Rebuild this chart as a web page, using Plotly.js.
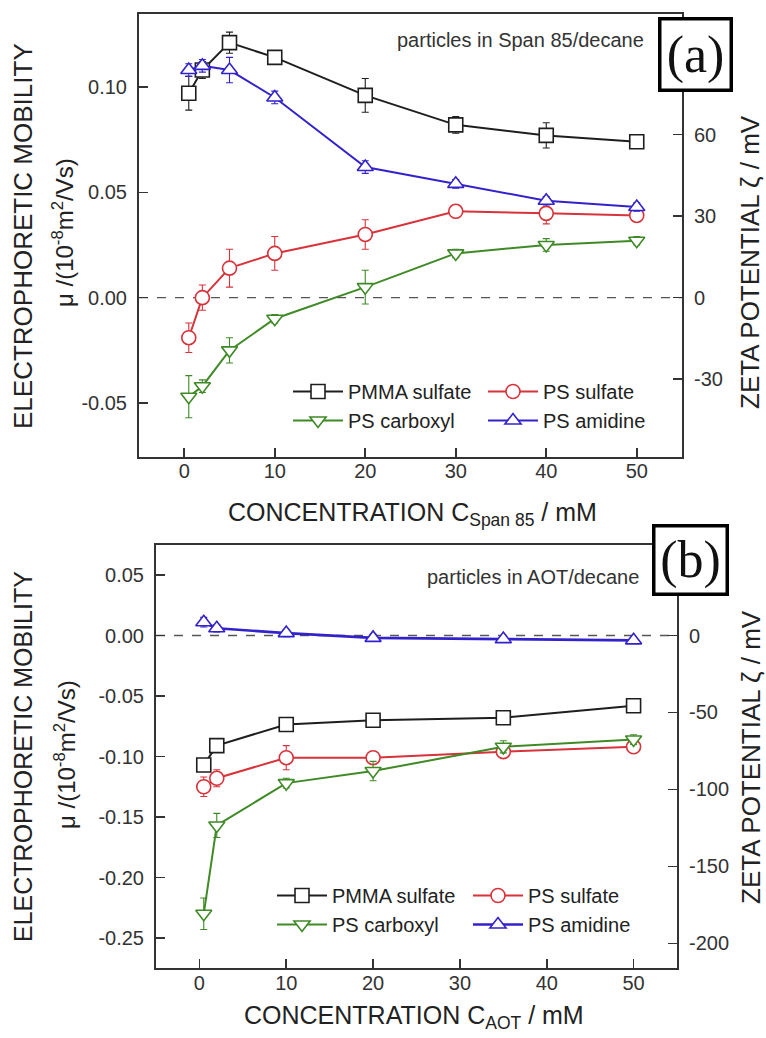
<!DOCTYPE html>
<html>
<head>
<meta charset="utf-8">
<script src="https://cdn.plot.ly/plotly-3.0.1.min.js"></script>
<style>html,body{margin:0;padding:0;background:#fff;}#chart{width:766px;height:1038px;}</style>
</head>
<body>
<div id="chart"></div>
<script>
// ---------- data ----------
const seriesNames = ['PMMA sulfate', 'PS sulfate', 'PS carboxyl', 'PS amidine'];

// Panel (a): Span 85 / decane
const concA = [0.5, 2, 5, 10, 20, 30, 40, 50];
const pmmaSulfateA = [0.097, 0.108, 0.121, 0.114, 0.096, 0.082, 0.077, 0.074];
const pmmaSulfateAErr = [0.008, 0.004, 0.005, 0.002, 0.008, 0.004, 0.006, 0.002];
const psSulfateA = [-0.019, 0.000, 0.014, 0.021, 0.030, 0.041, 0.040, 0.039];
const psSulfateAErr = [0.007, 0.006, 0.009, 0.008, 0.007, 0.003, 0.005, 0.002];
const psCarboxylA = [-0.047, -0.042, -0.025, -0.010, 0.005, 0.021, 0.025, 0.027];
const psCarboxylAErr = [0.010, 0.003, 0.006, 0.002, 0.008, 0.002, 0.003, 0.002];
const psAmidineA = [0.108, 0.110, 0.108, 0.095, 0.062, 0.054, 0.046, 0.043];
const psAmidineAErr = [0.003, 0.003, 0.006, 0.003, 0.003, 0.002, 0.002, 0.002];

// Panel (b): AOT / decane
const concB = [0.5, 2, 10, 20, 35, 50];
const pmmaSulfateB = [-0.107, -0.091, -0.0735, -0.070, -0.068, -0.058];
const pmmaSulfateBErr = [0.004, 0.003, 0.003, 0.002, 0.002, 0.003];
const psSulfateB = [-0.125, -0.118, -0.101, -0.101, -0.096, -0.092];
const psSulfateBErr = [0.008, 0.007, 0.010, 0.004, 0.003, 0.003];
const psCarboxylB = [-0.230, -0.157, -0.122, -0.112, -0.092, -0.086];
const psCarboxylBErr = [0.013, 0.010, 0.004, 0.008, 0.005, 0.004];
const psAmidineB = [0.011, 0.006, 0.002, -0.002, -0.003, -0.004];
const psAmidineBErr = [0.004, 0.003, 0.003, 0.003, 0.002, 0.002];

// ticks
const xTickVals = [0, 10, 20, 30, 40, 50];
const xTickText = ['0', '10', '20', '30', '40', '50'];
const yATickVals = [-0.05, 0, 0.05, 0.10];
const yATickText = ['-0.05', '0.00', '0.05', '0.10'];
const zATickVals = [-30, 0, 30, 60];
const zATickText = ['-30', '0', '30', '60'];
const yBTickVals = [-0.25, -0.20, -0.15, -0.10, -0.05, 0, 0.05];
const yBTickText = ['-0.25', '-0.20', '-0.15', '-0.10', '-0.05', '0.00', '0.05'];
const zBTickVals = [-200, -150, -100, -50, 0];
const zBTickText = ['-200', '-150', '-100', '-50', '0'];

// ---------- styles ----------
const W = 766, H = 1038;
const FONT = 'Liberation Sans, Arial, sans-serif';
const colors = ['#1e1e1e', '#d8323a', '#3f8a26', '#3322cc'];
const symbols = ['square', 'circle', 'triangle-down', 'triangle-up'];
const px = v => v / W;
const py = v => 1 - v / H;

function mk(i, x, y, err, xa, ya, legendId, lw) {
  return {
    type: 'scatter', mode: 'lines+markers', name: seriesNames[i],
    x: x, y: y, xaxis: xa, yaxis: ya, legend: legendId,
    line: {color: colors[i], width: lw || 2},
    marker: {symbol: symbols[i], size: 14, color: 'white', line: {color: colors[i], width: 1.6}},
    error_y: {type: 'data', array: err, visible: true, color: colors[i], thickness: 1.1, width: 3.5},
    cliponaxis: false
  };
}
// empty helper traces so that the zeta-potential (right) axes are drawn
function axisHolder(xa, ya) {
  return {type: 'scatter', mode: 'markers', x: [null], y: [null], xaxis: xa, yaxis: ya,
          showlegend: false, hoverinfo: 'skip'};
}

const data = [
  mk(0, concA, pmmaSulfateA, pmmaSulfateAErr, 'x', 'y', 'legend'),
  mk(1, concA, psSulfateA, psSulfateAErr, 'x', 'y', 'legend2'),
  mk(2, concA, psCarboxylA, psCarboxylAErr, 'x', 'y', 'legend'),
  mk(3, concA, psAmidineA, psAmidineAErr, 'x', 'y', 'legend2'),
  mk(0, concB, pmmaSulfateB, pmmaSulfateBErr, 'x2', 'y2', 'legend3'),
  mk(1, concB, psSulfateB, psSulfateBErr, 'x2', 'y2', 'legend4'),
  mk(2, concB, psCarboxylB, psCarboxylBErr, 'x2', 'y2', 'legend3'),
  mk(3, concB, psAmidineB, psAmidineBErr, 'x2', 'y2', 'legend4', 2.6),
  axisHolder('x', 'y3'),
  axisHolder('x2', 'y4')
];

const axisBase = {
  showline: true, linecolor: '#333', linewidth: 2,
  ticks: 'inside', ticklen: 9, tickwidth: 1.6, tickcolor: '#333',
  showgrid: false, zeroline: false,
  tickfont: {family: FONT, size: 20, color: '#333'},
  tickmode: 'array', fixedrange: true
};

function legendAt(xp, yp) {
  return {
    x: px(xp), y: py(yp), xanchor: 'left', yanchor: 'top', xref: 'paper', yref: 'paper',
    bgcolor: 'rgba(0,0,0,0)', borderwidth: 0, itemwidth: 50, tracegroupgap: 0,
    font: {family: FONT, size: 20, color: '#222'}, orientation: 'v'
  };
}

function title(text, x, y, size, angle) {
  return {text: text, xref: 'paper', yref: 'paper', x: px(x), y: py(y),
          xanchor: 'center', yanchor: 'middle', textangle: angle || 0, showarrow: false,
          font: {family: FONT, size: size, color: '#222'}};
}

const layout = {
  width: W, height: H,
  margin: {l: 0, r: 0, t: 0, b: 0},
  paper_bgcolor: 'white', plot_bgcolor: 'white',
  showlegend: true,
  font: {family: FONT, color: '#222'},
  xaxis: Object.assign({}, axisBase, {domain: [px(139), px(682)], anchor: 'y', range: [-5, 55],
    tickvals: xTickVals, ticktext: xTickText, mirror: true, ticklabelstandoff: -5}),
  yaxis: Object.assign({}, axisBase, {domain: [py(457), py(14)], anchor: 'x', range: [-0.0756, 0.1346],
    tickvals: yATickVals, ticktext: yATickText, ticklabelstandoff: 6}),
  yaxis3: Object.assign({}, axisBase, {overlaying: 'y', side: 'right', anchor: 'x', range: [-58.7, 104.4],
    tickvals: zATickVals, ticktext: zATickText, ticklabelstandoff: 6}),
  xaxis2: Object.assign({}, axisBase, {domain: [px(156), px(677)], anchor: 'y2', range: [-5, 55],
    tickvals: xTickVals, ticktext: xTickText, mirror: true, ticklabelstandoff: -4}),
  yaxis2: Object.assign({}, axisBase, {domain: [py(968), py(545)], anchor: 'x2', range: [-0.2748, 0.0748],
    tickvals: yBTickVals, ticktext: yBTickText, ticklabelstandoff: 6}),
  yaxis4: Object.assign({}, axisBase, {overlaying: 'y2', side: 'right', anchor: 'x2', range: [-216, 58.8],
    tickvals: zBTickVals, ticktext: zBTickText, ticklabelstandoff: 6}),
  legend: legendAt(288, 372),
  legend2: legendAt(483, 372),
  legend3: legendAt(272, 876),
  legend4: legendAt(468, 876),
  shapes: [
    {type: 'line', xref: 'x domain', yref: 'y', x0: 0, x1: 1, y0: 0, y1: 0,
     line: {color: '#555', width: 1.4, dash: 'dash'}, layer: 'below'},
    {type: 'line', xref: 'x2 domain', yref: 'y2', x0: 0, x1: 1, y0: 0, y1: 0,
     line: {color: '#555', width: 1.4, dash: 'dash'}, layer: 'below'}
  ],
  annotations: [
    // panel (a)
    title('ELECTROPHORETIC MOBILITY', 23, 236, 26, -90),
    title('μ /(10<sup>-8</sup>m<sup>2</sup>/Vs)', 63, 232, 24, -90),
    title('ZETA POTENTIAL ζ / mV', 750, 262, 26, -90),
    title('CONCENTRATION C<sub>Span 85</sub> / mM', 412, 514, 25, 0),
    {text: 'particles in Span 85/decane', xref: 'paper', yref: 'paper', x: px(646), y: py(40),
     xanchor: 'right', yanchor: 'middle', showarrow: false, font: {family: FONT, size: 20, color: '#333'}},
    {text: '(a)', xref: 'paper', yref: 'paper', x: px(695), y: py(54.5), xanchor: 'center', yanchor: 'middle',
     showarrow: false, width: 66, height: 66, borderpad: 1, borderwidth: 3.5, bordercolor: '#000', bgcolor: 'white',
     font: {family: 'Liberation Serif, Times New Roman, serif', size: 52, color: '#111'}},
    // panel (b)
    title('ELECTROPHORETIC MOBILITY', 23, 757, 25, -90),
    title('μ /(10<sup>-8</sup>m<sup>2</sup>/Vs)', 65, 755, 24, -90),
    title('ZETA POTENTIAL ζ / mV', 751, 757, 26, -90),
    title('CONCENTRATION C<sub>AOT</sub> / mM', 414, 1017, 25, 0),
    {text: 'particles in AOT/decane', xref: 'paper', yref: 'paper', x: px(641), y: py(577),
     xanchor: 'right', yanchor: 'middle', showarrow: false, font: {family: FONT, size: 20, color: '#333'}},
    {text: '(b)', xref: 'paper', yref: 'paper', x: px(690), y: py(560), xanchor: 'center', yanchor: 'middle',
     showarrow: false, width: 68, height: 63, borderpad: 1, borderwidth: 3.5, bordercolor: '#000', bgcolor: 'white',
     font: {family: 'Liberation Serif, Times New Roman, serif', size: 52, color: '#111'}}
  ]
};

Plotly.newPlot('chart', data, layout, {displayModeBar: false, staticPlot: true});
</script>
</body>
</html>
